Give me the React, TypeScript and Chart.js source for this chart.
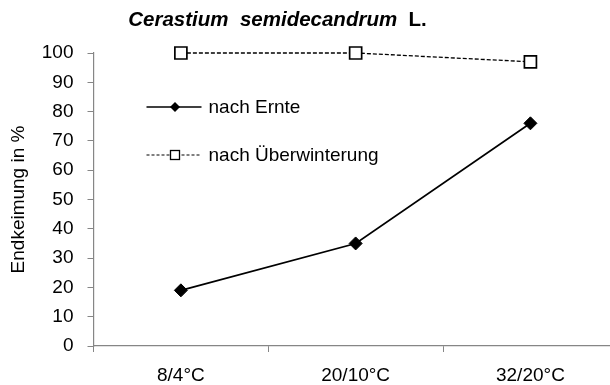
import React, { useEffect, useRef } from "react";
import { Chart, registerables } from "chart.js";

Chart.register(...registerables);

const categories = ["8/4°C", "20/10°C", "32/20°C"];
const nachErnte = [19, 35, 76];
const nachUeberwinterung = [100, 100, 97];
const seriesNames = ["nach Ernte", "nach Überwinterung"];
const titleSpecies = "Cerastium  semidecandrum";
const titleAuthor = "  L.";
const yAxisTitle = "Endkeimung in %";
const yMin = 0;
const yMax = 100;
const yStep = 10;

const FONT = '"Liberation Sans", Arial, Helvetica, sans-serif';
const AXIS_GRAY = "#868686";
// canvas is wider than the window; the chart area's right edge (minus the
// point-overflow padding Chart.js adds) falls just past the visible edge
const CANVAS_W = 628;
const CANVAS_H = 385;

const overlayPlugin = {
  id: "overlay",
  afterDraw(chart: any) {
    const ctx = chart.ctx as CanvasRenderingContext2D;
    const area = chart.chartArea;
    ctx.save();
    // Title
    const fItalic = `italic bold 20.5px ${FONT}`;
    const fBold = `bold 20.5px ${FONT}`;
    ctx.font = fItalic;
    const w1 = ctx.measureText(titleSpecies).width;
    ctx.font = fBold;
    const w2 = ctx.measureText(titleAuthor).width;
    const cx = 277.5;
    const ty = 20;
    let x = cx - (w1 + w2) / 2;
    ctx.fillStyle = "#000";
    ctx.textBaseline = "middle";
    ctx.textAlign = "left";
    ctx.font = fItalic;
    ctx.fillText(titleSpecies, x, ty);
    x += w1;
    ctx.font = fBold;
    ctx.fillText(titleAuthor, x, ty);

    // Legend
    const lx0 = area.left + 53;
    const lx1 = area.left + 108;
    const mx = area.left + 81.5;
    const tx = area.left + 115;
    const rows = [area.top + 54, area.top + 102];
    ctx.font = `19px ${FONT}`;
    rows.forEach((ry, i) => {
      ctx.strokeStyle = "#000";
      ctx.beginPath();
      if (i === 0) {
        ctx.lineWidth = 1.6;
        ctx.setLineDash([]);
      } else {
        ctx.lineWidth = 1.2;
        ctx.setLineDash([3, 2]);
      }
      ctx.moveTo(lx0, ry);
      ctx.lineTo(lx1, ry);
      ctx.stroke();
      ctx.setLineDash([]);
      if (i === 0) {
        const r = 5;
        ctx.fillStyle = "#000";
        ctx.beginPath();
        ctx.moveTo(mx - r, ry);
        ctx.lineTo(mx, ry - r);
        ctx.lineTo(mx + r, ry);
        ctx.lineTo(mx, ry + r);
        ctx.closePath();
        ctx.fill();
      } else {
        const h = 4.5;
        ctx.fillStyle = "#fff";
        ctx.lineWidth = 1.3;
        ctx.fillRect(mx - h, ry - h, 2 * h, 2 * h);
        ctx.strokeRect(mx - h, ry - h, 2 * h, 2 * h);
      }
      ctx.fillStyle = "#000";
      ctx.textBaseline = "middle";
      ctx.fillText(seriesNames[i], tx, ry + 1);
    });
    ctx.restore();
  },
};

export default function App() {
  const canvasRef = useRef<HTMLCanvasElement | null>(null);

  useEffect(() => {
    const canvas = canvasRef.current;
    if (!canvas) return;
    const chart = new Chart(canvas, {
      type: "line",
      data: {
        labels: categories,
        datasets: [
          {
            label: seriesNames[0],
            data: nachErnte,
            borderColor: "#000",
            backgroundColor: "#000",
            borderWidth: 1.7,
            pointStyle: "rectRot",
            pointRadius: 6.5,
            pointHoverRadius: 6.5,
            pointBackgroundColor: "#000",
            pointBorderColor: "#000",
            pointBorderWidth: 1,
            tension: 0,
            clip: false,
          },
          {
            label: seriesNames[1],
            data: nachUeberwinterung,
            borderColor: "#000",
            backgroundColor: "#fff",
            borderWidth: 1.3,
            borderDash: [4, 2],
            pointStyle: "rect",
            pointRadius: 8.5,
            pointHoverRadius: 8.5,
            pointBackgroundColor: "#fff",
            pointBorderColor: "#000",
            pointBorderWidth: 1.7,
            tension: 0,
            clip: false,
          },
        ],
      },
      options: {
        responsive: false,
        maintainAspectRatio: false,
        animation: false,
        devicePixelRatio: 1,
        layout: { padding: { top: 53, left: 0, right: 0, bottom: 0 } },
        plugins: {
          legend: { display: false },
          title: { display: false },
          tooltip: { enabled: false },
        },
        scales: {
          x: {
            type: "category",
            offset: true,
            grid: {
              offset: true,
              drawOnChartArea: false,
              drawTicks: true,
              tickLength: 6,
              color: AXIS_GRAY,
              lineWidth: 1,
            },
            border: { display: true, color: AXIS_GRAY, width: 1.2 },
            ticks: {
              color: "#000",
              font: { family: FONT, size: 19 },
              padding: 12,
              maxRotation: 0,
            },
            afterFit: (scale: any) => {
              scale.height = 39;
              scale.paddingLeft = 0;
              scale.paddingRight = 0;
            },
          },
          y: {
            min: yMin,
            max: yMax,
            grid: {
              drawOnChartArea: false,
              drawTicks: true,
              tickLength: 6,
              color: AXIS_GRAY,
              lineWidth: 1,
            },
            border: { display: true, color: AXIS_GRAY, width: 1.2 },
            ticks: {
              stepSize: yStep,
              color: "#000",
              font: { family: FONT, size: 19 },
              padding: 14,
            },
            title: {
              display: true,
              text: yAxisTitle,
              color: "#000",
              font: { family: FONT, size: 19 },
              padding: { top: 7, bottom: 0 },
            },
            afterFit: (scale: any) => {
              scale.width = 93.5;
            },
          },
        },
      },
      plugins: [overlayPlugin],
    });
    return () => chart.destroy();
  }, []);

  return (
    <div
      style={{
        position: "fixed",
        left: 0,
        top: 0,
        width: 610,
        height: 385,
        overflow: "hidden",
        background: "#fff",
      }}
    >
      <div style={{ width: CANVAS_W, height: CANVAS_H }}>
        <canvas
          ref={canvasRef}
          width={CANVAS_W}
          height={CANVAS_H}
          style={{ display: "block" }}
        />
      </div>
    </div>
  );
}
